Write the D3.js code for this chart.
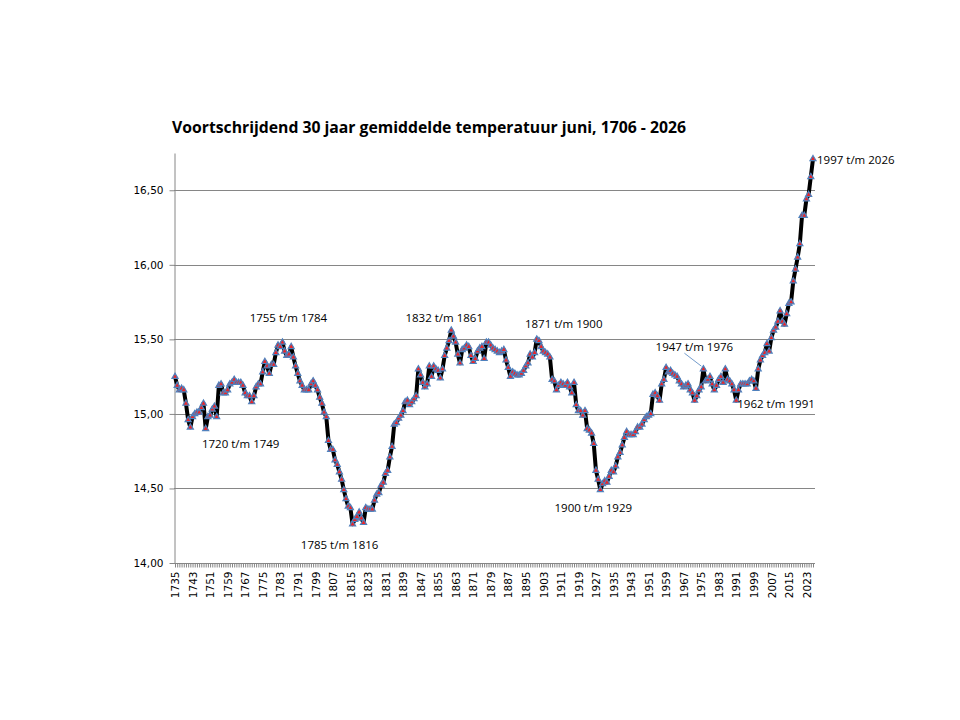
<!DOCTYPE html>
<html>
<head>
<meta charset="utf-8">
<script src="https://cdn.jsdelivr.net/npm/d3@7"></script>
<style>
body { margin: 0; background: #fff; }
svg { display: block; }
</style>
</head>
<body>
<svg id="chart"></svg>
<script>
const width = 960;
const height = 720;
const svg = d3.select('#chart').attr('width', width).attr('height', height);

// eindjaar van elk 30-jarig venster
const years = d3.range(1735, 2027);
const temps = [
  15.25, 15.19, 15.16, 15.17, 15.16, 15.07, 14.96, 14.91, 14.98, 15.00,
  15.01, 15.01, 15.04, 15.07, 14.90, 14.98, 14.99, 15.03, 15.05, 14.98,
  15.19, 15.20, 15.14, 15.14, 15.16, 15.20, 15.21, 15.23, 15.21, 15.21,
  15.21, 15.19, 15.14, 15.12, 15.12, 15.08, 15.12, 15.18, 15.20, 15.20,
  15.28, 15.35, 15.32, 15.27, 15.33, 15.33, 15.41, 15.46, 15.45, 15.48,
  15.42, 15.39, 15.40, 15.45, 15.38, 15.32, 15.27, 15.22, 15.19, 15.16,
  15.16, 15.16, 15.20, 15.22, 15.19, 15.16, 15.11, 15.07, 15.01, 14.98,
  14.82, 14.76, 14.76, 14.69, 14.66, 14.61, 14.56, 14.49, 14.43, 14.38,
  14.37, 14.26, 14.29, 14.31, 14.34, 14.30, 14.27, 14.37, 14.36, 14.36,
  14.36, 14.42, 14.46, 14.47, 14.52, 14.54, 14.60, 14.62, 14.71, 14.78,
  14.93, 14.94, 14.97, 14.99, 15.02, 15.08, 15.09, 15.06, 15.08, 15.10,
  15.12, 15.30, 15.26, 15.21, 15.18, 15.20, 15.32, 15.25, 15.32, 15.30,
  15.29, 15.24, 15.30, 15.39, 15.44, 15.49, 15.56, 15.52, 15.48, 15.40,
  15.34, 15.43, 15.44, 15.46, 15.45, 15.39, 15.35, 15.37, 15.42, 15.44,
  15.45, 15.37, 15.48, 15.48, 15.46, 15.44, 15.43, 15.42, 15.41, 15.42,
  15.43, 15.36, 15.31, 15.25, 15.28, 15.27, 15.26, 15.26, 15.27, 15.29,
  15.32, 15.34, 15.40, 15.38, 15.41, 15.50, 15.49, 15.45, 15.42, 15.41,
  15.40, 15.38, 15.23, 15.22, 15.16, 15.19, 15.21, 15.20, 15.19, 15.21,
  15.18, 15.14, 15.21, 15.06, 15.02, 15.02, 14.99, 15.02, 14.90, 14.89,
  14.87, 14.80, 14.62, 14.56, 14.49, 14.53, 14.55, 14.54, 14.58, 14.62,
  14.61, 14.65, 14.71, 14.74, 14.79, 14.84, 14.88, 14.86, 14.86, 14.86,
  14.88, 14.91, 14.91, 14.93, 14.96, 14.98, 14.99, 15.00, 15.13, 15.14,
  15.12, 15.09, 15.20, 15.23, 15.31, 15.28, 15.29, 15.27, 15.26, 15.25,
  15.22, 15.20, 15.18, 15.19, 15.20, 15.16, 15.14, 15.09, 15.12, 15.16,
  15.18, 15.30, 15.22, 15.23, 15.25, 15.20, 15.16, 15.19, 15.23, 15.25,
  15.21, 15.30, 15.23, 15.22, 15.20, 15.16, 15.09, 15.16, 15.20, 15.20,
  15.20, 15.20, 15.22, 15.23, 15.22, 15.17, 15.30, 15.36, 15.39, 15.41,
  15.47, 15.42, 15.51, 15.56, 15.58, 15.62, 15.69, 15.62, 15.60, 15.67,
  15.74, 15.75, 15.89, 15.97, 16.05, 16.14, 16.33, 16.33, 16.44, 16.47,
  16.59, 16.71
];
const yTicks = [14, 14.5, 15, 15.5, 16, 16.5];
const labelYears = years.filter(d => (d - 1735) % 8 === 0);
const noteYears = [1749, 1784, 1816, 1861, 1900, 1929, 1976, 1991, 2026];
const noteTexts = ['1720 t/m 1749', '1755 t/m 1784', '1785 t/m 1816', '1832 t/m 1861',
  '1871 t/m 1900', '1900 t/m 1929', '1947 t/m 1976', '1962 t/m 1991', '1997 t/m 2026'];
const title = 'Voortschrijdend 30 jaar gemiddelde temperatuur juni, 1706 - 2026';

const data = years.map((d, i) => ({ year: d, temp: temps[i] }));

const margin = { top: 153, right: 145, bottom: 157, left: 175 };
const innerW = 813 - margin.left;
const gridEnd = 815;
const axisColor = '#868686';

const x = d3.scalePoint()
  .domain(years)
  .range([margin.left, margin.left + innerW]);

const y = d3.scaleLinear()
  .domain([14, 16.75])
  .range([563, margin.top]);

// titel
svg.append('text')
  .attr('x', 172)
  .attr('y', 133)
  .attr('textLength', 514)
  .attr('lengthAdjust', 'spacingAndGlyphs')
  .style('font-family', '"Open Sans", "Noto Sans", sans-serif')
  .style('font-weight', 'bold')
  .style('font-size', '16px')
  .style('fill', '#000')
  .text(title);

// rasterlijnen
svg.append('g')
  .selectAll('line')
  .data(yTicks.filter(d => d > 14))
  .enter()
  .append('line')
  .attr('x1', margin.left - 1)
  .attr('x2', gridEnd)
  .attr('y1', d => Math.round(y(d)) + 0.5)
  .attr('y2', d => Math.round(y(d)) + 0.5)
  .attr('stroke', axisColor)
  .attr('stroke-width', 1);

// y-as
const yAxis = d3.axisLeft(y)
  .tickValues(yTicks)
  .tickSize(5)
  .tickSizeOuter(0)
  .tickPadding(6)
  .tickFormat(d => d3.format('.2f')(d).replace('.', ','));

const yG = svg.append('g')
  .attr('transform', `translate(${margin.left - 0.5},0)`)
  .call(yAxis);
yG.selectAll('path, line').attr('stroke', axisColor);
yG.selectAll('text')
  .style('font-family', '"DejaVu Sans", Verdana, sans-serif')
  .style('font-size', '10.5px')
  .style('fill', '#000');

// x-as
const xAxis = d3.axisBottom(x)
  .tickValues(years)
  .tickSize(4)
  .tickSizeOuter(0)
  .tickFormat(d => labelYears.includes(d) ? d : '');

const xG = svg.append('g')
  .attr('transform', `translate(0,${Math.round(y(14)) + 0.5})`)
  .call(xAxis);
xG.select('.domain').attr('d', `M${margin.left - 1},0H${gridEnd}`);
xG.selectAll('path, line').attr('stroke', axisColor);
xG.selectAll('text')
  .attr('transform', 'rotate(-90)')
  .attr('x', -8)
  .attr('y', 0)
  .attr('dy', '0.35em')
  .style('text-anchor', 'end')
  .style('font-family', '"DejaVu Sans", Verdana, sans-serif')
  .style('font-size', '10.5px')
  .style('fill', '#000');

// lijn
const line = d3.line()
  .x(d => x(d.year))
  .y(d => y(d.temp));

svg.append('path')
  .datum(data)
  .attr('d', line)
  .attr('fill', 'none')
  .attr('stroke', '#000')
  .attr('stroke-width', 4)
  .attr('stroke-linejoin', 'round');

// markers
const tri = d3.symbol().type(d3.symbolTriangle).size(16);
svg.append('g')
  .selectAll('path')
  .data(data)
  .enter()
  .append('path')
  .attr('d', tri)
  .attr('transform', d => `translate(${x(d.year)},${y(d.temp)})`)
  .attr('fill', '#E8262A')
  .attr('stroke', '#4F81BD')
  .attr('stroke-width', 1.2);

// labels bij de toppen en dalen (verschuiving t.o.v. het punt)
const noteShift = [
  { dx: 35, dy: 15, anchor: 'middle' },
  { dx: 6, dy: -24, anchor: 'middle' },
  { dx: -13, dy: 21, anchor: 'middle' },
  { dx: -7, dy: -12, anchor: 'middle' },
  { dx: 27, dy: -15, anchor: 'middle' },
  { dx: -7, dy: 18, anchor: 'middle' },
  { dx: -9, dy: -22, anchor: 'middle' },
  { dx: 1, dy: 3, anchor: 'start' },
  { dx: 4, dy: 1, anchor: 'start' }
];

const notes = svg.append('g');
noteYears.forEach((yr, i) => {
  const px = x(yr);
  const py = y(temps[years.indexOf(yr)]);
  const s = noteShift[i];
  notes.append('text')
    .attr('x', px + s.dx)
    .attr('y', py + s.dy)
    .attr('dy', '0.35em')
    .attr('text-anchor', s.anchor)
    .style('font-family', '"Open Sans", "Noto Sans", sans-serif')
    .style('font-size', '11.5px')
    .style('fill', '#000')
    .text(noteTexts[i]);
  if (yr === 1976) {
    notes.append('line')
      .attr('x1', px - 19)
      .attr('y1', py - 16)
      .attr('x2', px - 2)
      .attr('y2', py - 3)
      .attr('stroke', '#4F81BD')
      .attr('stroke-width', 0.8);
  }
});
</script>
</body>
</html>
